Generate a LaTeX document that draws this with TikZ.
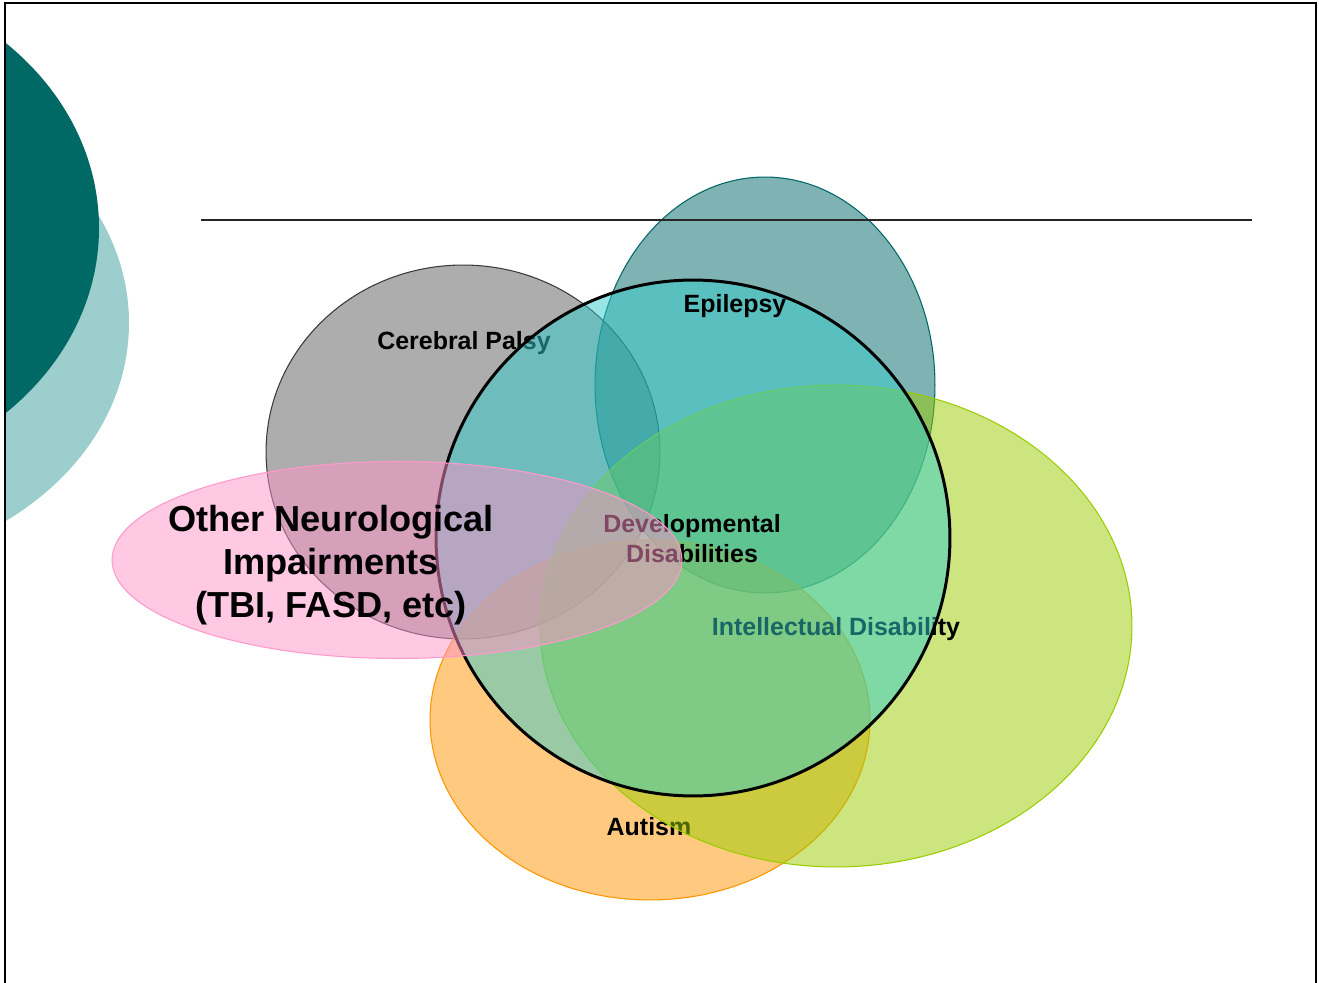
\documentclass[tikz,border=0pt]{standalone}
\usepackage{fontspec}
\setmainfont{Liberation Sans}
\usepackage{tikz}
\usetikzlibrary{shapes.geometric}
\definecolor{deckteal}{HTML}{006865}
\definecolor{decklight}{HTML}{9CCECE}
\definecolor{cpgray}{HTML}{5B5B5B}
\definecolor{cpedge}{HTML}{3A3A3A}
\definecolor{epiteal}{HTML}{006666}
\definecolor{idgreen}{HTML}{99CC00}
\definecolor{autorange}{HTML}{FF9400}
\definecolor{onipink}{HTML}{FF91C8}
\definecolor{oniedge}{HTML}{FF99CC}
\definecolor{ddcyan}{HTML}{33CCCC}
\tikzset{
  blob/.style={ellipse, inner sep=0pt, fill opacity=0.5, line width=0.6pt},
  lab/.style={font=\bfseries\fontsize{14.2}{17}\selectfont, text=black, inner sep=0pt, align=center},
  labbig/.style={font=\bfseries\fontsize{20.6}{24.4}\selectfont, text=black, inner sep=0pt, align=center},
  frame/.style={line width=1.1pt, draw=black},
  rule/.style={line width=0.8pt, draw=black!85}
}

\begin{document}
\begin{tikzpicture}[x=0.02cm, y=-0.02cm]
  \useasboundingbox (0,0) rectangle (1319,983);

  % slide decoration, cut by the frame
  \begin{scope}
    \clip (5,3) rectangle (1316,983);
    \fill[decklight] (-171,323) ellipse [x radius=300, y radius=245];
    \fill[deckteal] (-200,228) ellipse [x radius=299, y radius=255];
  \end{scope}
  \draw[frame] (5,983) -- (5,3) -- (1316,3) -- (1316,983);

  \node[blob, draw=cpedge, fill=cpgray, minimum width=7.88cm, minimum height=7.48cm] (cp) at (463,452) {};
  \node[lab, anchor=base] (cplab) at (464,350) {Cerebral Palsy};

  \node[blob, draw=epiteal, fill=epiteal, minimum width=6.8cm, minimum height=8.32cm] (epi) at (765,385) {};

  \node[blob, draw=autorange, fill=autorange, minimum width=8.8cm, minimum height=7.2cm] (aut) at (650,720) {};
  \node[lab, anchor=base] (autlab) at (649,835) {Autism};

  \node[blob, draw=idgreen, fill=idgreen, minimum width=11.84cm, minimum height=9.64cm] (id) at (836,626) {};
  \node[lab, anchor=base] (idlab) at (836,635) {Intellectual Disability};

  \draw[rule] (201,220) -- (1252,220);

  % developmental disabilities over everything else
  \node[blob, draw=black, line width=1.7pt, fill=ddcyan, minimum width=10.28cm, minimum height=10.32cm] (dd) at (693,538) {};
  \node[lab, anchor=base] (epilab) at (735,313) {Epilepsy};
  \node[lab] (ddlab) at (692,539) {Developmental\\Disabilities};

  \node[blob, draw=oniedge, fill=onipink, minimum width=11.4cm, minimum height=3.94cm] (oni) at (397,560) {};
  \node[labbig] (onilab) at (331,565) {Other Neurological\\Impairments\\(TBI, FASD, etc)};
\end{tikzpicture}
\end{document}
